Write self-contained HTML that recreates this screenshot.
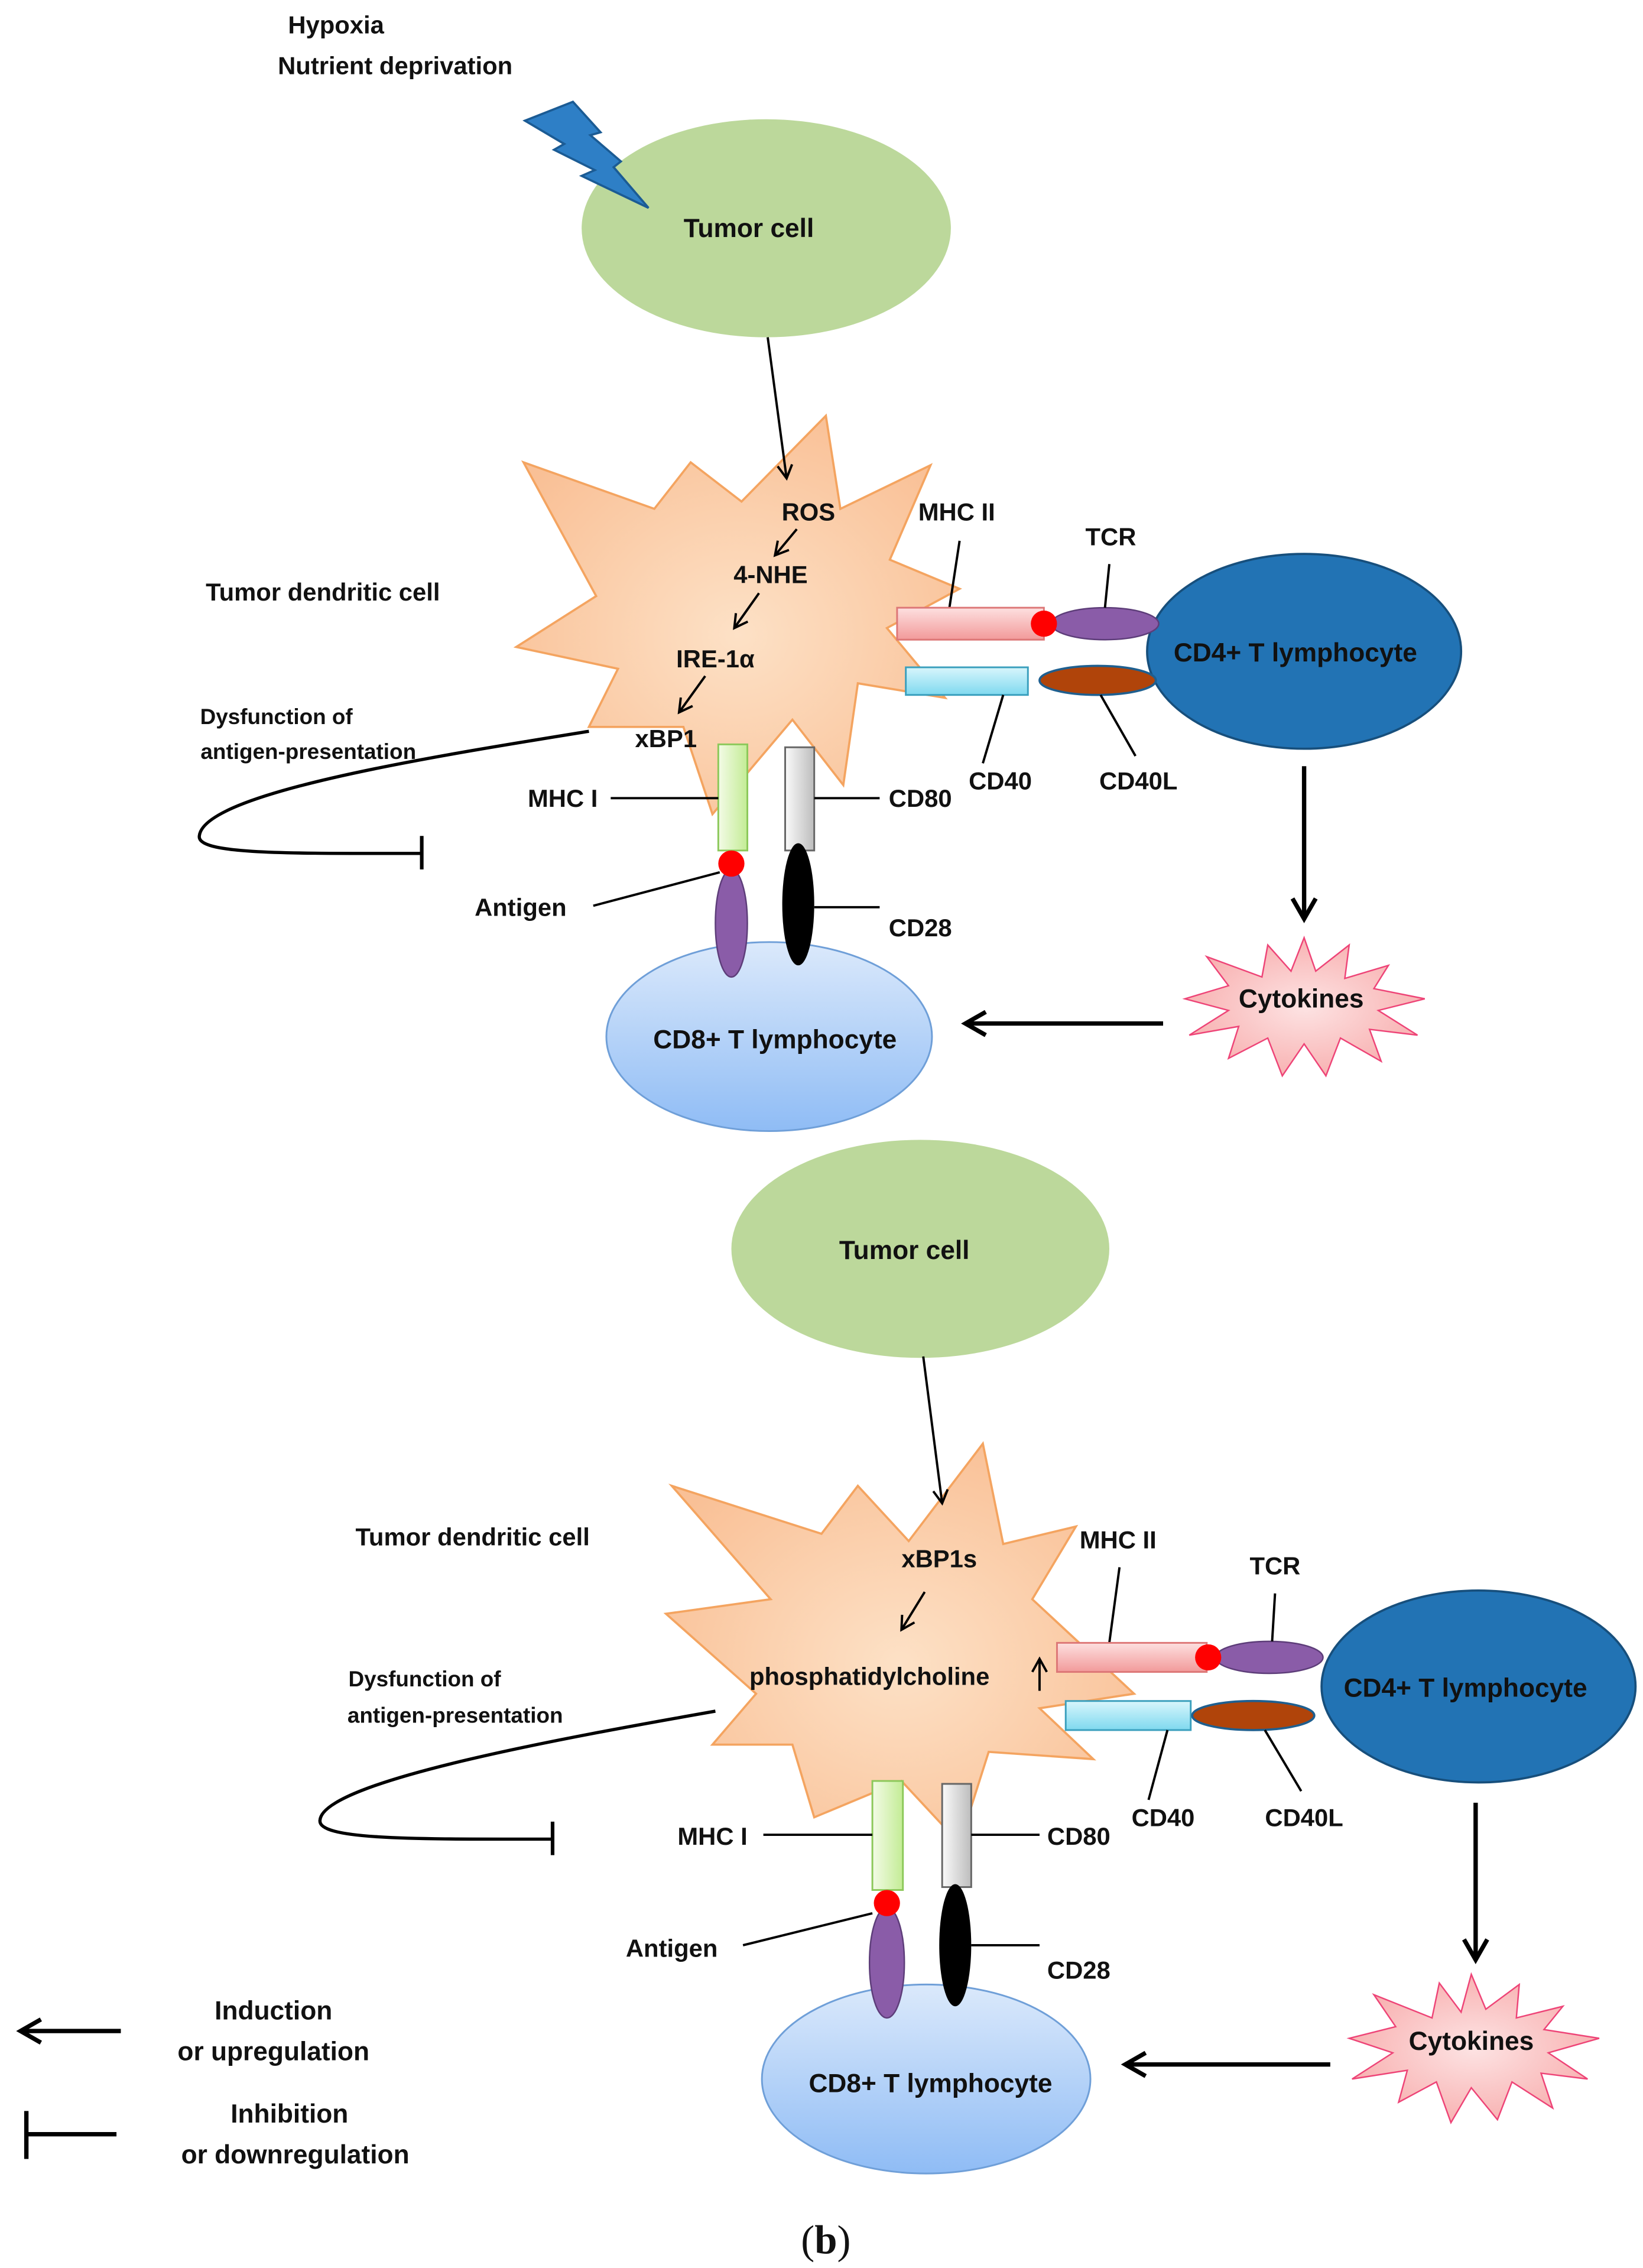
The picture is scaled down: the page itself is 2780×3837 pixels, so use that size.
<!DOCTYPE html>
<html><head><meta charset="utf-8"><style>
html,body{margin:0;padding:0;background:#fff;}
svg{display:block;}
text{font-family:"Liberation Sans",sans-serif;font-weight:bold;fill:#111;}
</style></head><body>
<svg width="2780" height="3837" viewBox="0 0 1130 1560" xmlns="http://www.w3.org/2000/svg">
<defs>
<marker id="ah" markerWidth="12" markerHeight="12" refX="10" refY="6" orient="auto" markerUnits="userSpaceOnUse">
<path d="M1,1 L10,6 L1,11" fill="none" stroke="#000" stroke-width="1.6"/></marker>
<marker id="ah2" markerWidth="20" markerHeight="20" refX="16" refY="10" orient="auto" markerUnits="userSpaceOnUse">
<path d="M2,2 L16,10 L2,18" fill="none" stroke="#000" stroke-width="3"/></marker>
<radialGradient id="dc" cx="50%" cy="55%" r="60%"><stop offset="0" stop-color="#fde1c6"/><stop offset="1" stop-color="#f9c096"/></radialGradient>
<linearGradient id="cd8" x1="0" y1="0" x2="0" y2="1"><stop offset="0" stop-color="#dbe9fb"/><stop offset="1" stop-color="#8fbcf5"/></linearGradient>
<radialGradient id="cy" cx="50%" cy="50%" r="60%"><stop offset="0" stop-color="#fde3e3"/><stop offset="1" stop-color="#f7a9a9"/></radialGradient>
<linearGradient id="pk" x1="0" y1="0" x2="0" y2="1"><stop offset="0" stop-color="#fde0e0"/><stop offset="1" stop-color="#f29a9a"/></linearGradient>
<linearGradient id="cyn" x1="0" y1="0" x2="0" y2="1"><stop offset="0" stop-color="#d8f6fc"/><stop offset="1" stop-color="#7fd9ef"/></linearGradient>
<linearGradient id="gr" x1="0" y1="0" x2="1" y2="0"><stop offset="0" stop-color="#f3fbe6"/><stop offset="1" stop-color="#c3ec95"/></linearGradient>
<linearGradient id="gy" x1="0" y1="0" x2="1" y2="0"><stop offset="0" stop-color="#fafafa"/><stop offset="1" stop-color="#bdbdbd"/></linearGradient>
</defs>

<!-- TOP -->
<text x="198" y="23" font-size="17">Hypoxia</text>
<text x="191" y="51" font-size="17">Nutrient deprivation</text>
<ellipse cx="527" cy="157" rx="127" ry="75" fill="#bcd89b"/>
<polygon points="361,83 394,70 413,91 406,93 427,111 422,115 446,143 400,121 409,117 381,103 388,99" fill="#2e7fc6" stroke="#1b5b94" stroke-width="1.5"/>
<text x="515" y="163" font-size="18" text-anchor="middle">Tumor cell</text>

<polygon points="568,286 578,350 640,320 612,385 660,405 610,432 650,480 590,470 580,540 545,495 490,560 470,500 405,500 425,460 355,445 410,410 360,318 450,350 475,318 510,345" fill="url(#dc)" stroke="#f4a460" stroke-width="1.5"/>
<line x1="528" y1="232" x2="541" y2="329" stroke="#000" stroke-width="1.6" marker-end="url(#ah)"/>
<text x="222" y="413" font-size="17" text-anchor="middle">Tumor dendritic cell</text>
<text x="556" y="358" font-size="17" text-anchor="middle">ROS</text>
<line x1="548" y1="364" x2="533" y2="382" stroke="#000" stroke-width="1.6" marker-end="url(#ah)"/>
<text x="530" y="401" font-size="17" text-anchor="middle">4-NHE</text>
<line x1="522" y1="408" x2="505" y2="432" stroke="#000" stroke-width="1.6" marker-end="url(#ah)"/>
<text x="492" y="459" font-size="17" text-anchor="middle">IRE-1α</text>
<line x1="485" y1="465" x2="467" y2="490" stroke="#000" stroke-width="1.6" marker-end="url(#ah)"/>
<text x="458" y="514" font-size="17" text-anchor="middle">xBP1</text>

<text x="658" y="358" font-size="17" text-anchor="middle">MHC II</text>
<line x1="660" y1="372" x2="653" y2="418" stroke="#000" stroke-width="1.6"/>
<rect x="617" y="418" width="101" height="22" fill="url(#pk)" stroke="#d77" stroke-width="1.2"/>
<ellipse cx="897" cy="448" rx="108" ry="67" fill="#2273b4" stroke="#174f7c" stroke-width="1.5"/>
<ellipse cx="760" cy="429" rx="37" ry="11" fill="#8a5ca8" stroke="#5d3d79"/>
<circle cx="718" cy="429" r="9" fill="#f00"/>
<text x="764" y="375" font-size="17" text-anchor="middle">TCR</text>
<line x1="763" y1="388" x2="760" y2="418" stroke="#000" stroke-width="1.6"/>
<text x="891" y="455" font-size="18" text-anchor="middle">CD4+ T lymphocyte</text>
<rect x="623" y="459" width="84" height="19" fill="url(#cyn)" stroke="#3a9fbd" stroke-width="1.2"/>
<ellipse cx="755" cy="468" rx="40" ry="10" fill="#b0440a" stroke="#1f5f8f" stroke-width="1.5"/>
<line x1="690" y1="478" x2="676" y2="525" stroke="#000" stroke-width="1.6"/>
<line x1="757" y1="478" x2="781" y2="520" stroke="#000" stroke-width="1.6"/>
<text x="688" y="543" font-size="17" text-anchor="middle">CD40</text>
<text x="783" y="543" font-size="17" text-anchor="middle">CD40L</text>

<ellipse cx="529" cy="713" rx="112" ry="65" fill="url(#cd8)" stroke="#6f9fd8" stroke-width="1.2"/>
<rect x="494" y="512" width="20" height="73" fill="url(#gr)" stroke="#8cc85a" stroke-width="1.2"/>
<rect x="540" y="514" width="20" height="71" fill="url(#gy)" stroke="#666" stroke-width="1.2"/>
<ellipse cx="503" cy="635" rx="11" ry="37" fill="#8a5ca8" stroke="#5d3d79"/>
<circle cx="503" cy="594" r="9" fill="#f00"/>
<ellipse cx="549" cy="622" rx="11" ry="42" fill="#000"/>
<text x="387" y="555" font-size="17" text-anchor="middle">MHC I</text>
<line x1="420" y1="549" x2="494" y2="549" stroke="#000" stroke-width="1.6"/>
<text x="633" y="555" font-size="17" text-anchor="middle">CD80</text>
<line x1="560" y1="549" x2="605" y2="549" stroke="#000" stroke-width="1.6"/>
<text x="358" y="630" font-size="17" text-anchor="middle">Antigen</text>
<line x1="408" y1="623" x2="495" y2="600" stroke="#000" stroke-width="1.6"/>
<text x="633" y="644" font-size="17" text-anchor="middle">CD28</text>
<line x1="560" y1="624" x2="605" y2="624" stroke="#000" stroke-width="1.6"/>
<text x="533" y="721" font-size="18" text-anchor="middle">CD8+ T lymphocyte</text>

<line x1="897" y1="527" x2="897" y2="632" stroke="#000" stroke-width="3" marker-end="url(#ah2)"/>
<polygon points="897,645 905,668 928,650 925,673 955,664 945,680 980,687 948,695 975,712 942,708 950,730 922,714 912,740 897,718 882,740 872,714 845,728 852,706 818,712 845,695 815,687 845,678 830,658 868,672 872,650 888,668" fill="url(#cy)" stroke="#e47" stroke-width="1"/>
<text x="895" y="693" font-size="18" text-anchor="middle">Cytokines</text>
<line x1="800" y1="704" x2="664" y2="704" stroke="#000" stroke-width="3" marker-end="url(#ah2)"/>

<text x="190" y="498" font-size="15" text-anchor="middle">Dysfunction of</text>
<text x="212" y="522" font-size="15" text-anchor="middle">antigen-presentation</text>
<path d="M405,503 C300,520 140,545 137,575 C135,588 200,587 290,587" fill="none" stroke="#000" stroke-width="2.2"/>
<line x1="290" y1="575" x2="290" y2="598" stroke="#000" stroke-width="2.5"/>

<!-- BOTTOM -->
<ellipse cx="633" cy="859" rx="130" ry="75" fill="#bcd89b"/>
<text x="622" y="866" font-size="18" text-anchor="middle">Tumor cell</text>
<polygon points="676,993 690,1062 740,1050 710,1100 780,1165 715,1175 752,1210 680,1205 660,1268 620,1225 560,1250 545,1200 490,1200 520,1165 458,1110 530,1100 462,1022 565,1055 590,1022 625,1060" fill="url(#dc)" stroke="#f4a460" stroke-width="1.5"/>
<line x1="635" y1="933" x2="648" y2="1034" stroke="#000" stroke-width="1.6" marker-end="url(#ah)"/>
<text x="325" y="1063" font-size="17" text-anchor="middle">Tumor dendritic cell</text>
<text x="646" y="1078" font-size="17" text-anchor="middle">xBP1s</text>
<line x1="636" y1="1095" x2="620" y2="1121" stroke="#000" stroke-width="1.6" marker-end="url(#ah)"/>
<text x="598" y="1159" font-size="17" text-anchor="middle">phosphatidylcholine</text>
<line x1="715" y1="1163" x2="715" y2="1141" stroke="#000" stroke-width="1.6" marker-end="url(#ah)"/>

<text x="769" y="1065" font-size="17" text-anchor="middle">MHC II</text>
<line x1="770" y1="1078" x2="763" y2="1130" stroke="#000" stroke-width="1.6"/>
<rect x="727" y="1130" width="103" height="20" fill="url(#pk)" stroke="#d77" stroke-width="1.2"/>
<ellipse cx="1017" cy="1160" rx="108" ry="66" fill="#2273b4" stroke="#174f7c" stroke-width="1.5"/>
<ellipse cx="873" cy="1140" rx="37" ry="11" fill="#8a5ca8" stroke="#5d3d79"/>
<circle cx="831" cy="1140" r="9" fill="#f00"/>
<text x="877" y="1083" font-size="17" text-anchor="middle">TCR</text>
<line x1="877" y1="1096" x2="875" y2="1129" stroke="#000" stroke-width="1.6"/>
<text x="1008" y="1167" font-size="18" text-anchor="middle">CD4+ T lymphocyte</text>
<rect x="733" y="1170" width="86" height="20" fill="url(#cyn)" stroke="#3a9fbd" stroke-width="1.2"/>
<ellipse cx="862" cy="1180" rx="42" ry="10" fill="#b0440a" stroke="#1f5f8f" stroke-width="1.5"/>
<line x1="803" y1="1190" x2="790" y2="1238" stroke="#000" stroke-width="1.6"/>
<line x1="870" y1="1190" x2="895" y2="1232" stroke="#000" stroke-width="1.6"/>
<text x="800" y="1256" font-size="17" text-anchor="middle">CD40</text>
<text x="897" y="1256" font-size="17" text-anchor="middle">CD40L</text>

<ellipse cx="637" cy="1430" rx="113" ry="65" fill="url(#cd8)" stroke="#6f9fd8" stroke-width="1.2"/>
<rect x="600" y="1225" width="21" height="75" fill="url(#gr)" stroke="#8cc85a" stroke-width="1.2"/>
<rect x="648" y="1227" width="20" height="71" fill="url(#gy)" stroke="#666" stroke-width="1.2"/>
<ellipse cx="610" cy="1350" rx="12" ry="38" fill="#8a5ca8" stroke="#5d3d79"/>
<circle cx="610" cy="1309" r="9" fill="#f00"/>
<ellipse cx="657" cy="1338" rx="11" ry="42" fill="#000"/>
<text x="490" y="1269" font-size="17" text-anchor="middle">MHC I</text>
<line x1="525" y1="1262" x2="600" y2="1262" stroke="#000" stroke-width="1.6"/>
<text x="742" y="1269" font-size="17" text-anchor="middle">CD80</text>
<line x1="668" y1="1262" x2="715" y2="1262" stroke="#000" stroke-width="1.6"/>
<text x="462" y="1346" font-size="17" text-anchor="middle">Antigen</text>
<line x1="511" y1="1338" x2="600" y2="1316" stroke="#000" stroke-width="1.6"/>
<text x="742" y="1361" font-size="17" text-anchor="middle">CD28</text>
<line x1="668" y1="1338" x2="715" y2="1338" stroke="#000" stroke-width="1.6"/>
<text x="640" y="1439" font-size="18" text-anchor="middle">CD8+ T lymphocyte</text>

<line x1="1015" y1="1240" x2="1015" y2="1348" stroke="#000" stroke-width="3" marker-end="url(#ah2)"/>
<polygon points="1012,1358 1022,1382 1045,1365 1043,1388 1075,1380 1062,1396 1100,1402 1065,1412 1092,1430 1060,1426 1068,1450 1040,1432 1030,1458 1012,1436 998,1460 988,1432 962,1446 968,1424 930,1430 958,1412 928,1402 960,1394 945,1372 985,1388 990,1364 1005,1384" fill="url(#cy)" stroke="#e47" stroke-width="1"/>
<text x="1012" y="1410" font-size="18" text-anchor="middle">Cytokines</text>
<line x1="915" y1="1420" x2="774" y2="1420" stroke="#000" stroke-width="3" marker-end="url(#ah2)"/>

<text x="292" y="1160" font-size="15" text-anchor="middle">Dysfunction of</text>
<text x="313" y="1185" font-size="15" text-anchor="middle">antigen-presentation</text>
<path d="M492,1177 C390,1195 222,1225 220,1252 C218,1266 290,1265 380,1265" fill="none" stroke="#000" stroke-width="2.2"/>
<line x1="380" y1="1253" x2="380" y2="1276" stroke="#000" stroke-width="2.5"/>

<!-- Legend -->
<line x1="83" y1="1397" x2="14" y2="1397" stroke="#000" stroke-width="3" marker-end="url(#ah2)"/>
<text x="188" y="1389" font-size="18" text-anchor="middle">Induction</text>
<text x="188" y="1417" font-size="18" text-anchor="middle">or upregulation</text>
<line x1="80" y1="1468" x2="18" y2="1468" stroke="#000" stroke-width="3"/>
<line x1="18" y1="1452" x2="18" y2="1485" stroke="#000" stroke-width="3"/>
<text x="199" y="1460" font-size="18" text-anchor="middle">Inhibition</text>
<text x="203" y="1488" font-size="18" text-anchor="middle">or downregulation</text>
<text x="568" y="1550" font-size="28" text-anchor="middle" style="font-family:'Liberation Serif',serif;font-weight:normal">(<tspan font-weight="bold">b</tspan>)</text>
</svg>
</body></html>
